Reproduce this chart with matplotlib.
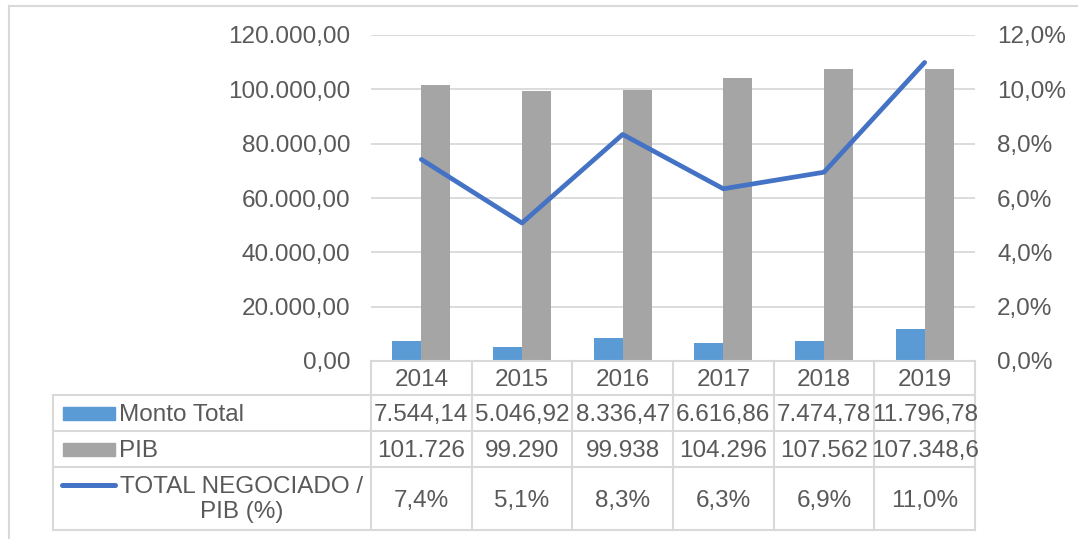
import matplotlib
matplotlib.use("Agg")
import matplotlib.pyplot as plt
from matplotlib.lines import Line2D
from matplotlib.patches import Rectangle
import matplotlib.transforms as mtransforms
import numpy as np

plt.rcParams['font.family'] = ['Liberation Sans', 'DejaVu Sans']

years = ['2014', '2015', '2016', '2017', '2018', '2019']
monto_total = [7544.14, 5046.92, 8336.47, 6616.86, 7474.78, 11796.78]
pib = [101726, 99290, 99938, 104296, 107562, 107348.6]
ratio_pct = [7.42, 5.08, 8.34, 6.34, 6.95, 10.99]
monto_labels = ['7.544,14', '5.046,92', '8.336,47', '6.616,86', '7.474,78', '11.796,78']
pib_labels = ['101.726', '99.290', '99.938', '104.296', '107.562', '107.348,6']
ratio_labels = ['7,4%', '5,1%', '8,3%', '6,3%', '6,9%', '11,0%']
row_names = ['Monto Total', 'PIB', 'TOTAL NEGOCIADO /\nPIB (%)']

BLUE = '#5B9BD5'
GRAY = '#A5A5A5'
LINE = '#4472C4'
TXT = '#595959'
GRID = '#D9D9D9'
FS = 17.5

W, H = 1078, 539
fig = plt.figure(figsize=(W / 100, H / 100), dpi=100)

def fx(px):
    return px / W

def fy(py):
    return 1 - py / H

x0, x1, ytop, ybot = 371, 975, 35, 361
ax = fig.add_axes([fx(x0), fy(ybot), fx(x1 - x0), (ybot - ytop) / H])
ax2 = ax.twinx()

x = np.arange(len(years))
bw = 0.288
ax.bar(x - bw / 2, monto_total, bw, color=BLUE, zorder=2)
ax.bar(x + bw / 2, pib, bw, color=GRAY, zorder=2)
ax.set_xlim(-0.5, len(years) - 0.5)
ax.set_ylim(0, 120000)
ax.set_yticks(np.arange(0, 120001, 20000))
ax.set_yticklabels([f"{int(v):,}".replace(',', '.') + ',00' for v in np.arange(0, 120001, 20000)])
ax.yaxis.grid(True, color=GRID, lw=1.3, zorder=0)
ax.set_axisbelow(True)
ax.set_xticks([])
ax.tick_params(axis='y', length=0, pad=15, labelsize=FS, labelcolor=TXT)

ax2.plot(x, ratio_pct, color=LINE, lw=3.4, solid_capstyle='round', solid_joinstyle='round', zorder=3)
ax2.set_ylim(0, 12)
ax2.set_yticks(np.arange(0, 12.01, 2))
ax2.set_yticklabels([f"{v:.1f}%".replace('.', ',') for v in np.arange(0, 12.01, 2)])
ax2.tick_params(axis='y', length=0, pad=16, labelsize=FS, labelcolor=TXT)

for a in (ax, ax2):
    for s in a.spines.values():
        s.set_visible(False)

# Table
trans = mtransforms.blended_transform_factory(ax.transData, fig.transFigure)
row_edges = [361, 395, 431, 467, 530]
label_left = 53
for i in range(len(years) + 1):
    xb = i - 0.5
    fig.add_artist(Line2D([xb, xb], [fy(361), fy(530)], transform=trans, color=GRID, lw=1.5))
fig.add_artist(Line2D([fx(label_left), fx(label_left)], [fy(395), fy(530)],
                      transform=fig.transFigure, color=GRID, lw=1.5))
fig.add_artist(Line2D([fx(x0), fx(x1)], [fy(361), fy(361)], transform=fig.transFigure, color=GRID, lw=1.5))
for ry in row_edges[1:]:
    fig.add_artist(Line2D([fx(label_left), fx(x1)], [fy(ry), fy(ry)], transform=fig.transFigure, color=GRID, lw=1.5))

row_texts = [years, monto_labels, pib_labels, ratio_labels]
for r, texts in enumerate(row_texts):
    cy = (row_edges[r] + row_edges[r + 1]) / 2 + 2
    for i, t in enumerate(texts):
        fig.text(i, fy(cy), t, transform=trans, fontsize=FS, color=TXT, ha='center', va='center')

# legend column
cy1 = (395 + 431) / 2
cy2 = (431 + 467) / 2
cy3 = (467 + 530) / 2
fig.add_artist(Rectangle((fx(63), fy(cy1 + 6.5)), fx(52), 13 / H, transform=fig.transFigure, color=BLUE))
fig.text(fx(119), fy(cy1 + 2), row_names[0], fontsize=FS, color=TXT, ha='left', va='center')
fig.add_artist(Rectangle((fx(63), fy(cy2 + 6.5)), fx(52), 13 / H, transform=fig.transFigure, color=GRAY))
fig.text(fx(119), fy(cy2 + 2), row_names[1], fontsize=FS, color=TXT, ha='left', va='center')
fig.add_artist(Line2D([fx(62), fx(115)], [fy(485), fy(485)], transform=fig.transFigure,
                      color=LINE, lw=3.6, solid_capstyle='round'))
fig.text(fx(242), fy(cy3 + 1), row_names[2], fontsize=FS, color=TXT, ha='center', va='center',
         multialignment='center', linespacing=1.2)

# outer chart border
fig.add_artist(Line2D([fx(8.5), fx(8.5)], [fy(6), fy(545)], transform=fig.transFigure, color=GRID, lw=1.5))
fig.add_artist(Line2D([fx(8.5), fx(1080)], [fy(6), fy(6)], transform=fig.transFigure, color=GRID, lw=1.5))

fig.savefig('out.png', dpi=100)
